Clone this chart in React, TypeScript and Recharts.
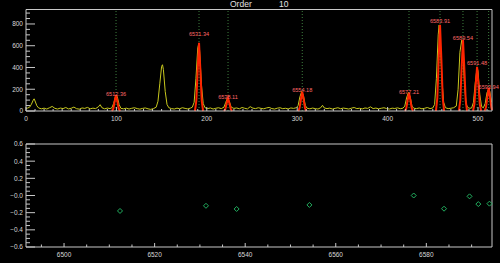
import { ComposedChart, Line, Scatter, XAxis, YAxis, ReferenceLine } from 'recharts'

// extracted spectrum of order 10: [pixel, counts]
const spectrum: [number, number][] = [
  [0, 22], [2, 28], [4, 35], [6, 62], [8, 100], [9, 112], [10, 92], [12, 48], [14, 28], [17, 20],
  [20, 26], [23, 18], [26, 30], [29, 42], [32, 24], [35, 18], [38, 27], [41, 22], [44, 32], [47, 19],
  [50, 25], [53, 36], [56, 21], [59, 17], [62, 28], [65, 24], [68, 33], [71, 20], [74, 26], [77, 22],
  [80, 38], [82, 58], [84, 30], [87, 20], [90, 27], [93, 22], [95, 30], [97, 70], [99, 135], [100, 145],
  [101, 130], [103, 60], [105, 24], [108, 20], [111, 26], [114, 18], [117, 25], [120, 30], [123, 22], [126, 17],
  [129, 24], [132, 28], [135, 20], [138, 15], [141, 22], [144, 35], [146, 90], [148, 250], [150, 410], [151, 425],
  [152, 380], [154, 180], [156, 60], [158, 30], [161, 22], [164, 18], [167, 26], [170, 21], [173, 30], [176, 24],
  [179, 19], [182, 27], [184, 35], [186, 80], [188, 300], [190, 580], [191, 615], [192, 560], [194, 250], [196, 70],
  [198, 30], [201, 22], [204, 28], [207, 18], [210, 25], [213, 30], [216, 22], [219, 35], [221, 80], [223, 120],
  [225, 85], [227, 35], [230, 24], [233, 28], [236, 20], [239, 32], [242, 25], [245, 19], [248, 40], [251, 26],
  [254, 22], [257, 30], [260, 24], [263, 20], [266, 28], [269, 33], [272, 22], [275, 18], [278, 26], [281, 30],
  [284, 21], [287, 25], [290, 19], [293, 28], [296, 24], [299, 30], [301, 50], [303, 130], [305, 180], [307, 140],
  [309, 50], [311, 25], [314, 20], [317, 27], [320, 22], [323, 18], [326, 30], [328, 52], [330, 28], [333, 22],
  [336, 26], [339, 18], [342, 24], [345, 30], [348, 21], [351, 27], [354, 23], [357, 18], [360, 26], [363, 32],
  [366, 22], [369, 25], [372, 19], [375, 28], [378, 24], [381, 38], [384, 22], [387, 27], [390, 20], [393, 25],
  [396, 30], [399, 22], [402, 18], [405, 26], [408, 23], [411, 29], [414, 21], [417, 26], [419, 45], [421, 120],
  [423, 170], [425, 130], [427, 45], [429, 25], [432, 22], [435, 28], [438, 20], [441, 25], [444, 32], [447, 22],
  [450, 28], [452, 60], [454, 300], [456, 700], [457, 790], [458, 720], [460, 300], [462, 80], [464, 30], [467, 22],
  [470, 25], [473, 30], [476, 45], [478, 200], [480, 540], [482, 650], [483, 600], [485, 250], [487, 60], [489, 30],
  [491, 25], [493, 28], [495, 80], [497, 260], [499, 400], [500, 370], [502, 150], [504, 40], [506, 30], [508, 70],
  [510, 170], [512, 205], [513, 180], [515, 80],
]

// identified lines
const lineWaves = [6512.36, 6531.34, 6538.11, 6554.18, 6577.21, 6583.91, 6589.54, 6591.48, 6593.94]
const linePixels = [99.6, 191.4, 223.5, 305.6, 423.7, 458, 483.4, 499, 511.8]
const labelHeights = [157, 710, 129, 194, 175, 830, 673, 442, 221]
const residuals = [-0.18, -0.12, -0.157, -0.11, 0.0, -0.154, -0.01, -0.1, -0.095]

// gaussian fits, [pixel, counts]
const fit6512: [number, number][] = [[95.1, 0], [96.6, 22], [98.1, 88], [99.6, 147], [101.1, 88], [102.6, 22], [104.1, 0]]
const fit6531: [number, number][] = [[186.9, 0], [188.4, 94], [189.9, 376], [191.4, 627], [192.9, 376], [194.4, 94], [195.9, 0]]
const fit6538: [number, number][] = [[219, 0], [220.5, 18], [222, 72], [223.5, 120], [225, 72], [226.5, 18], [228, 0]]
const fit6554: [number, number][] = [[301.1, 0], [302.6, 27], [304.1, 107], [305.6, 178], [307.1, 107], [308.6, 27], [310.1, 0]]
const fit6577: [number, number][] = [[419.2, 0], [420.7, 25], [422.2, 101], [423.7, 168], [425.2, 101], [426.7, 25], [428.2, 0]]
const fit6583: [number, number][] = [[453.5, 0], [455, 119], [456.5, 476], [458, 793], [459.5, 476], [461, 119], [462.5, 0]]
const fit6589: [number, number][] = [[478.9, 0], [480.4, 98], [481.9, 393], [483.4, 655], [484.9, 393], [486.4, 98], [487.9, 0]]
const fit6591: [number, number][] = [[494.5, 0], [496, 61], [497.5, 243], [499, 405], [500.5, 243], [502, 61], [503.5, 0]]
const fit6593: [number, number][] = [[507.3, 0], [508.8, 32], [510.3, 127], [511.8, 212], [513.3, 127], [514.8, 32], [515.5, 10]]
const fits = [fit6512, fit6531, fit6538, fit6554, fit6577, fit6583, fit6589, fit6591, fit6593]

const pixelMajor = [0, 100, 200, 300, 400, 500]
const countMajor = [0, 200, 400, 600, 800]
const waveMajor = [6500, 6520, 6540, 6560, 6580]
const residMajor = [-0.6, -0.4, -0.2, 0, 0.2, 0.4, 0.6]
const residLabels = ['−0.6', '−0.4', '−0.2', '−0.0', '0.2', '0.4', '0.6']

const steps = (from: number, to: number, step: number) => {
  const out: number[] = []
  for (let v = from; v <= to + 1e-9; v += step) out.push(Math.round(v * 1000) / 1000)
  return out
}

const AXIS = '#c8c8c8'
const TEXT = '#d8d8d8'
const FONT = 'Liberation Sans, Arial, sans-serif'

const toPts = (arr: [number, number][]) => arr.map(([x, y]) => ({ x, y }))

// IDL style ticks: drawn inward, label only on majors
function axisTick(side: 'bottom' | 'top' | 'left' | 'right', majors: number[], majorLen: number, minorLen: number, labels?: (v: number) => string) {
  return (props: any) => {
    const { x, y, payload } = props
    const v = payload.value
    const idx = majors.findIndex((m) => Math.abs(m - v) < 1e-6)
    const len = idx >= 0 ? majorLen : minorLen
    let ln
    if (side === 'bottom') ln = <line x1={x} y1={y} x2={x} y2={y - len} stroke={AXIS} />
    else if (side === 'top') ln = <line x1={x} y1={y} x2={x} y2={y + len} stroke={AXIS} />
    else if (side === 'left') ln = <line x1={x} y1={y} x2={x + len} y2={y} stroke={AXIS} />
    else ln = <line x1={x} y1={y} x2={x - len} y2={y} stroke={AXIS} />
    let txt = null
    if (labels && idx >= 0) {
      if (side === 'bottom')
        txt = <text x={x} y={y + 9.5} textAnchor="middle" fill={TEXT} fontSize={6.5} fontFamily={FONT}>{labels(v)}</text>
      else
        txt = <text x={x - 3} y={y + 2.4} textAnchor="end" fill={TEXT} fontSize={6.5} fontFamily={FONT}>{labels(v)}</text>
    }
    return (
      <g>
        {ln}
        {txt}
      </g>
    )
  }
}

const labelShape = (p: any) => (
  <text x={p.cx} y={p.cy + 2} textAnchor="middle" fill="#ff6868" fontSize={5.6} fontFamily={FONT}>
    {p.payload.label}
  </text>
)

const diamond = (p: any) => (
  <polygon
    points={`${p.cx},${p.cy - 2.5} ${p.cx + 2.5},${p.cy} ${p.cx},${p.cy + 2.5} ${p.cx - 2.5},${p.cy}`}
    fill="none"
    stroke="#22b060"
    strokeWidth={1}
  />
)

export default function App() {
  const specData = toPts(spectrum)
  const labelData = linePixels.map((p, i) => ({ x: p, y: labelHeights[i], label: lineWaves[i].toFixed(2) }))
  const residData = lineWaves.map((w, i) => ({ x: w, y: residuals[i] }))
  const pixTicks = steps(0, 510, 10)
  const countTicks = steps(0, 900, 50)
  const waveTicks = steps(6495, 6590, 5)
  const residTicks = steps(-0.6, 0.6, 0.05)

  return (
    <div style={{ position: 'absolute', left: 0, top: 0, width: 500, height: 263, background: '#000', overflow: 'hidden' }}>
      <div style={{ position: 'absolute', left: 230, top: -1, color: '#e0e0e0', fontFamily: FONT, fontSize: 8.5 }}>Order</div>
      <div style={{ position: 'absolute', left: 279, top: -1, color: '#e0e0e0', fontFamily: FONT, fontSize: 8.5 }}>10</div>

      <div style={{ position: 'absolute', left: 0, top: 0 }}>
        <ComposedChart width={500} height={125} margin={{ top: 0, right: 0, bottom: 0, left: 0 }}>
          <XAxis xAxisId="b" dataKey="x" type="number" domain={[0, 515.5]} ticks={pixTicks} interval={0}
            height={14} tickSize={0} tickMargin={0} stroke={AXIS}
            tick={axisTick('bottom', pixelMajor, 4, 2, (v) => String(v))} />
          <XAxis xAxisId="t" orientation="top" dataKey="x" type="number" domain={[0, 515.5]} ticks={pixTicks} interval={0}
            height={9.5} tickSize={0} tickMargin={0} stroke={AXIS}
            tick={axisTick('top', pixelMajor, 4, 2)} />
          <YAxis yAxisId="l" type="number" domain={[0, 933]} ticks={countTicks} interval={0}
            width={26} tickSize={0} tickMargin={0} stroke={AXIS}
            tick={axisTick('left', countMajor, 9, 4, (v) => String(v))} />
          <YAxis yAxisId="r" orientation="right" type="number" domain={[0, 933]} ticks={countTicks} interval={0}
            width={8} tickSize={0} tickMargin={0} stroke={AXIS}
            tick={axisTick('right', countMajor, 9, 4)} />

          {linePixels.map((p) => (
            <ReferenceLine key={p} xAxisId="b" yAxisId="l" x={p} stroke="#3f7f3f" strokeDasharray="1 2" />
          ))}

          <Line xAxisId="b" yAxisId="l" data={specData} dataKey="y" type="linear" stroke="#c8c81e"
            strokeWidth={1} dot={false} isAnimationActive={false} />
          {fits.map((f, i) => (
            <Line key={i} xAxisId="b" yAxisId="l" data={toPts(f)} dataKey="y" type="linear" stroke="#ff2400"
              strokeWidth={2} dot={false} isAnimationActive={false} />
          ))}
          <Scatter xAxisId="b" yAxisId="l" data={labelData} dataKey="y" shape={labelShape} isAnimationActive={false} />
        </ComposedChart>
      </div>

      <div style={{ position: 'absolute', left: 0, top: 130 }}>
        <ComposedChart width={500} height={133} margin={{ top: 0, right: 0, bottom: 0, left: 0 }}>
          <XAxis xAxisId="b" dataKey="x" type="number" domain={[6491.6, 6594.5]} ticks={waveTicks} interval={0}
            height={16} tickSize={0} tickMargin={0} stroke={AXIS}
            tick={axisTick('bottom', waveMajor, 4, 2.5, (v) => String(v))} />
          <XAxis xAxisId="t" orientation="top" dataKey="x" type="number" domain={[6491.6, 6594.5]} ticks={waveTicks} interval={0}
            height={14} tickSize={0} tickMargin={0} stroke={AXIS}
            tick={axisTick('top', waveMajor, 4, 2.5)} />
          <YAxis yAxisId="l" type="number" domain={[-0.6, 0.6]} ticks={residTicks} interval={0}
            width={26} tickSize={0} tickMargin={0} stroke={AXIS}
            tick={axisTick('left', residMajor, 9, 4, (v) => residLabels[residMajor.findIndex((m) => Math.abs(m - v) < 1e-6)])} />
          <YAxis yAxisId="r" orientation="right" type="number" domain={[-0.6, 0.6]} ticks={residTicks} interval={0}
            width={8} tickSize={0} tickMargin={0} stroke={AXIS}
            tick={axisTick('right', residMajor, 9, 4)} />
          <Scatter xAxisId="b" yAxisId="l" data={residData} dataKey="y" shape={diamond} isAnimationActive={false} />
        </ComposedChart>
      </div>
    </div>
  )
}
